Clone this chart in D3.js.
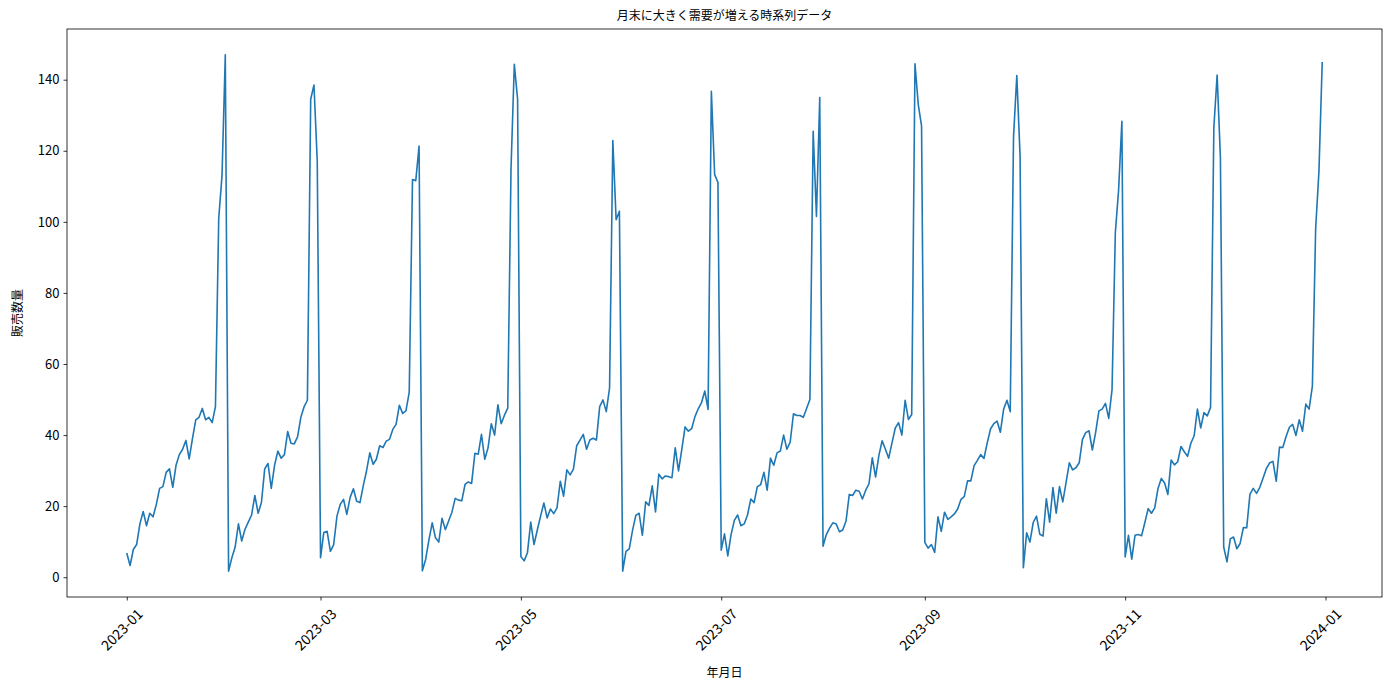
<!DOCTYPE html>
<html>
<head>
<meta charset="utf-8">
<script src="https://cdn.jsdelivr.net/npm/d3@7"></script>
<style>
  body { margin: 0; background: #fff; }
  text { font-family: "Noto Sans CJK JP", "Noto Sans", sans-serif; fill: #000; }
</style>
</head>
<body>
<script>
const width = 1389
const height = 690
const margin = {top: 29, right: 7, bottom: 93, left: 67}

// daily sales, one array per month of 2023
const jan = [6.8, 3.3, 7.8, 9.2, 15, 18.5, 14.5, 18, 17, 20.5, 25, 25.5, 29.5, 30.5, 25.3, 31.5, 34.5, 36, 38.5, 33.3, 39, 44.3, 45, 47.5, 44.3, 45, 43.5, 48, 101, 113, 147]
const feb = [1.7, 5.5, 8.5, 15, 10.2, 13.5, 15.5, 17.5, 23, 18, 21, 30.5, 32, 25, 31.5, 35.5, 33.5, 34.5, 41, 37.7, 37.5, 39.5, 45, 48, 49.8, 134.5, 138.5, 117]
const mar = [5.5, 12.6, 12.9, 7.3, 9.2, 17.2, 20.5, 21.9, 17.7, 22.4, 24.9, 21.4, 21, 25.7, 29.9, 35, 31.8, 33.2, 37, 36.5, 38.3, 38.8, 41.6, 43, 48.4, 46.1, 46.8, 52, 111.9, 111.6, 121.3]
const apr = [1.8, 5, 10.5, 15.3, 11.1, 9.9, 16.6, 13.4, 15.8, 18.3, 22.2, 21.7, 21.5, 26.1, 26.8, 26.4, 34.9, 34.6, 40.2, 33.2, 36.4, 43.2, 40, 48.5, 43.2, 45.6, 47.6, 115, 144.3, 134.5]
const may = [5.8, 4.6, 6.9, 15.5, 9.2, 13.3, 17.2, 20.9, 16.7, 19.2, 17.9, 19.5, 27, 22.8, 30.2, 28.8, 30.4, 37, 38.6, 40.2, 36, 38.6, 39.1, 38.6, 48, 49.9, 46.6, 53.2, 122.9, 100.6, 103]
const jun = [1.7, 7.3, 8, 13.2, 17.4, 18, 11.8, 21.2, 20.2, 25.7, 18.4, 29, 27.7, 28.5, 28.3, 28, 36.4, 29.9, 36, 42.3, 41.1, 41.8, 45.2, 47.4, 49.1, 52.4, 47.2, 136.7, 113.3, 111.1]
const jul = [7.6, 12.2, 6, 12, 16, 17.5, 14.5, 15, 17.5, 22, 21, 25.5, 26, 29.5, 24.5, 33.5, 31.5, 35, 35.5, 40, 36, 38, 46, 45.5, 45.5, 45, 47.5, 50, 125.5, 101.5, 135]
const aug = [8.7, 12, 13.8, 15.3, 15, 12.8, 13.3, 15.8, 23.3, 23, 24.5, 24.2, 22, 24.5, 26.3, 33.6, 28.2, 34.2, 38.4, 36, 33.5, 37.8, 42, 43.5, 40, 49.8, 44.4, 45.8, 144.5, 133, 127]
const sep = [9.8, 8.2, 9.2, 7, 17, 12.9, 18.3, 16.3, 17, 17.8, 19.2, 21.9, 22.7, 27.1, 27.1, 31.4, 32.9, 34.5, 33.4, 37.8, 41.7, 43.2, 43.9, 40.8, 47.3, 49.8, 46.6, 123.7, 141.2, 118.5]
const oct = [2.7, 12.5, 9.9, 15.4, 17.2, 12.1, 11.6, 22.1, 15.5, 25.2, 18, 25.5, 21.2, 26.6, 32.2, 30.2, 30.8, 32.2, 38.8, 40.7, 41.2, 35.8, 40.7, 46.8, 47.3, 48.9, 44.7, 52.8, 96.9, 109, 128.3]
const nov = [5.7, 11.8, 5.1, 11.8, 12, 11.7, 15.4, 19.3, 18, 19.5, 25, 27.8, 26.5, 23.3, 33, 31.6, 32.5, 36.8, 35.3, 34, 37.7, 39.8, 47.3, 42, 46.3, 45.4, 47.8, 126.5, 141.3, 118]
const dec = [8.5, 4.3, 10.8, 11.3, 8, 9.5, 14, 13.9, 23.4, 25, 23.6, 25.3, 27.9, 30.6, 32.2, 32.6, 27, 36.6, 36.5, 39.6, 42.2, 43, 39.9, 44.3, 41.1, 48.7, 47.3, 53.8, 98.2, 114.2, 145]

const months = [jan, feb, mar, apr, may, jun, jul, aug, sep, oct, nov, dec]
const xTicks = ['2023-01', '2023-03', '2023-05', '2023-07', '2023-09', '2023-11', '2024-01']
const yTicks = [0, 20, 40, 60, 80, 100, 120, 140]

const parseMonth = d3.utcParse('%Y-%m')
const data = []
months.forEach((vals, m) => {
    vals.forEach((v, i) => {
        data.push({date: new Date(Date.UTC(2023, m, i + 1)), value: v})
    })
})

const svg = d3.select('body')
        .append('svg')
        .attr('width', width)
        .attr('height', height)

// matplotlib-like 5% padding on both axes
const xExt = d3.extent(data, d => d.date)
const xPad = (xExt[1] - xExt[0]) * 0.05
const xScale = d3.scaleUtc()
        .domain([new Date(+xExt[0] - xPad), new Date(+xExt[1] + xPad)])
        .range([margin.left, width - margin.right])

const yExt = d3.extent(data, d => d.value)
const yPad = (yExt[1] - yExt[0]) * 0.05
const yScale = d3.scaleLinear()
        .domain([yExt[0] - yPad, yExt[1] + yPad])
        .range([height - margin.bottom, margin.top])

const plotBottom = height - margin.bottom

// x axis
const xAxis = d3.axisBottom(xScale)
        .tickValues(xTicks.map(parseMonth))
        .tickSize(3.5)
        .tickPadding(3)
        .tickFormat(d3.utcFormat('%Y-%m'))

const gx = svg.append('g')
        .attr('transform', 'translate(0,' + plotBottom + ')')
        .call(xAxis)
gx.select('.domain').remove()
gx.selectAll('.tick line').attr('stroke', '#000').attr('stroke-width', 0.8)
gx.selectAll('.tick text')
        .attr('font-size', '14px')
        .attr('y', 0)
        .attr('dy', 0)
        .attr('text-anchor', 'middle')
        .attr('dominant-baseline', 'central')
        .attr('transform', 'translate(-6, 32) rotate(-45)')

// y axis
const yAxis = d3.axisLeft(yScale)
        .tickValues(yTicks)
        .tickSize(3.5)
        .tickPadding(4)

const gy = svg.append('g')
        .attr('transform', 'translate(' + margin.left + ',0)')
        .call(yAxis)
gy.select('.domain').remove()
gy.selectAll('.tick line').attr('stroke', '#000').attr('stroke-width', 0.8)
gy.selectAll('.tick text').attr('font-size', '13px')

// line
const line = d3.line()
        .x(d => xScale(d.date))
        .y(d => yScale(d.value))

svg.append('path')
        .datum(data)
        .attr('fill', 'none')
        .attr('stroke', '#1f77b4')
        .attr('stroke-width', 1.6)
        .attr('stroke-linejoin', 'round')
        .attr('d', line)

// frame
svg.append('rect')
        .attr('x', margin.left)
        .attr('y', margin.top)
        .attr('width', width - margin.left - margin.right)
        .attr('height', plotBottom - margin.top)
        .attr('fill', 'none')
        .attr('stroke', '#000')
        .attr('stroke-width', 0.8)

// titles
const midX = (margin.left + width - margin.right) / 2
svg.append('text')
        .text('月末に大きく需要が増える時系列データ')
        .attr('x', midX)
        .attr('y', 20)
        .attr('text-anchor', 'middle')
        .attr('font-size', '12px')

svg.append('text')
        .text('年月日')
        .attr('x', midX)
        .attr('y', 677)
        .attr('text-anchor', 'middle')
        .attr('font-size', '12px')

svg.append('text')
        .text('販売数量')
        .attr('transform', 'translate(22,' + ((margin.top + plotBottom) / 2) + ') rotate(-90)')
        .attr('text-anchor', 'middle')
        .attr('font-size', '12px')
</script>
</body>
</html>
